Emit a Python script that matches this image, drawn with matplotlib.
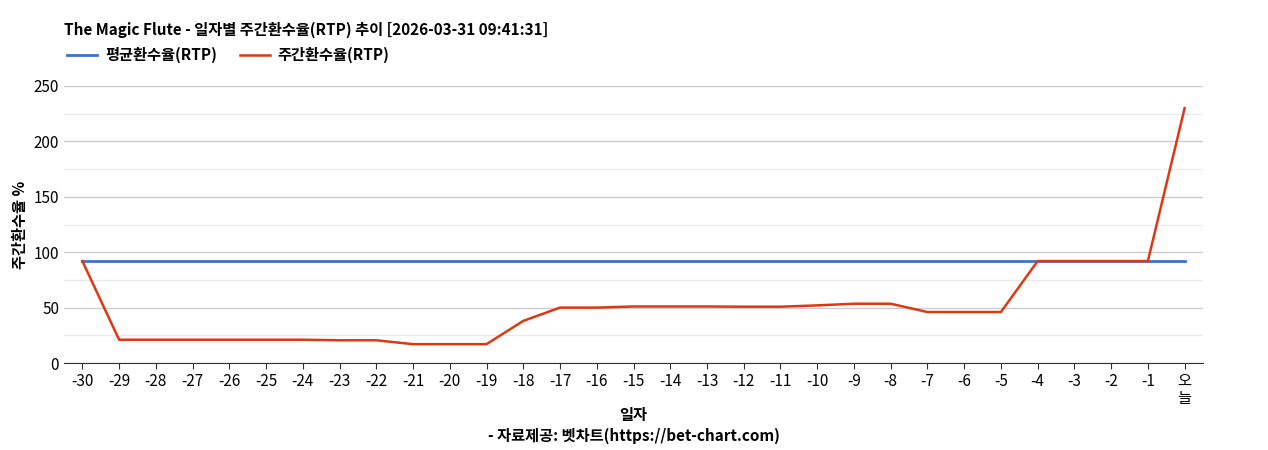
import matplotlib
matplotlib.use("Agg")
import matplotlib.pyplot as plt

plt.rcParams['font.family'] = ['Noto Sans CJK KR', 'DejaVu Sans']

labels = [str(i) for i in range(-30, 0)] + ['오\n늘']
weekly = [92, 21, 21, 21, 21, 21, 21, 20.5, 20.5, 17, 17, 17, 38, 50, 50, 51, 51, 51, 50.8, 50.8,
          52, 53.5, 53.5, 46, 46, 46, 92, 92, 92, 92, 230]
avg = [92] * len(labels)

fig = plt.figure(figsize=(12.68, 4.5), dpi=100)
ax = fig.add_axes([64/1268, 1-363/450, (1203-64)/1268, (363-86)/450])
x = list(range(len(labels)))
ax.plot(x, avg, color='#3f6fd6', lw=2, label='평균환수율(RTP)')
ax.plot(x, weekly, color='#dc3912', lw=1.8, label='주간환수율(RTP)')
ax.set_xlim(-0.5, len(labels) - 0.5)
ax.set_ylim(0, 250)
ax.set_yticks(range(0, 251, 50))
ax.set_yticks(range(25, 250, 50), minor=True)
ax.grid(axis='y', which='major', color='#cccccc', lw=1)
ax.grid(axis='y', which='minor', color='#ebebeb', lw=1)
ax.tick_params(axis='y', which='both', length=0, labelsize=11)
ax.set_axisbelow(True)
ax.set_xticks(x)
ax.set_xticklabels(labels, fontsize=11, linespacing=1.0)
ax.tick_params(axis='x', length=4, color='#333333')
for s in ['top', 'right', 'left']:
    ax.spines[s].set_visible(False)
ax.spines['bottom'].set_color('#333333')
ax.set_ylabel('주간환수율 %', fontsize=11, fontweight='bold')
ax.set_xlabel('일자\n- 자료제공: 벳차트(https://bet-chart.com)', fontsize=11, fontweight='bold',
              linespacing=1.35, labelpad=0)
fig.text(64/1268, 1-30/450, 'The Magic Flute - 일자별 주간환수율(RTP) 추이 [2026-03-31 09:41:31]',
         fontsize=11, fontweight='bold', va='center')
ax.legend(loc='lower left', bbox_to_anchor=(-0.003, 1.06), ncol=2, frameon=False,
          prop={'size': 11, 'weight': 'bold'}, handlelength=2.0, handletextpad=0.5,
          columnspacing=1.5, borderaxespad=0)
fig.savefig('out.png')
